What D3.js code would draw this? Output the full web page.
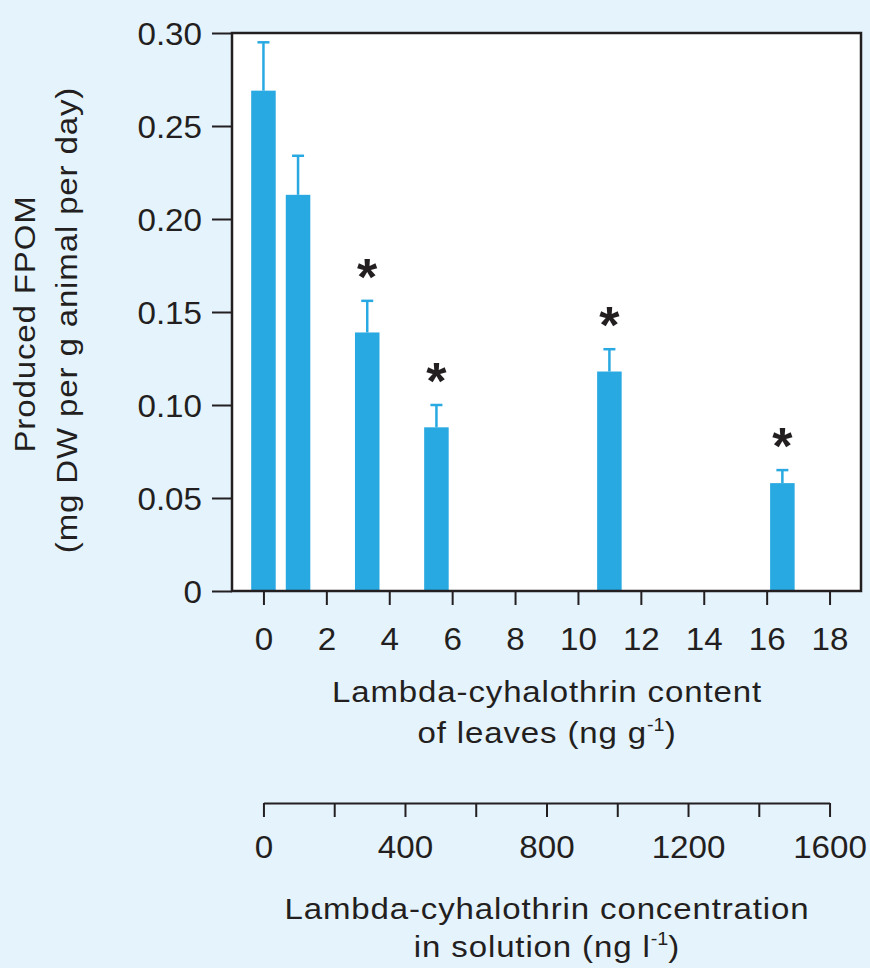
<!DOCTYPE html>
<html>
<head>
<meta charset="utf-8">
<script src="https://cdn.jsdelivr.net/npm/d3@7"></script>
<style>
  body { margin: 0; background: #e5f3fd; }
  text { font-family: "Liberation Sans", Arial, sans-serif; fill: #231f20; }
</style>
</head>
<body>
<svg id="vis"></svg>
<script>
//DATOS----------------------------------------------------------------------------------------------
const CONTENIDO_HOJAS = [0, 1.1, 3.3, 5.5, 11, 16.5];
const FPOM = [0.269, 0.213, 0.139, 0.088, 0.118, 0.058];
const ERROR_SUPERIOR = [0.295, 0.234, 0.156, 0.1, 0.13, 0.065];
const SIGNIFICATIVO = ["", "", "*", "*", "*", "*"];
const TICKS_Y = [0, 0.05, 0.1, 0.15, 0.2, 0.25, 0.3];
const ETIQUETAS_Y = ["0", "0.05", "0.10", "0.15", "0.20", "0.25", "0.30"];
const TICKS_X = [0, 2, 4, 6, 8, 10, 12, 14, 16, 18];
const TICKS_SOLUCION = [0, 200, 400, 600, 800, 1000, 1200, 1400, 1600];
const ETIQUETAS_SOLUCION = ["0", "", "400", "", "800", "", "1200", "", "1600"];

//VARIABLES CONSTANTES-------------------------------------------------------------------------------
const WIDTH = 870;
const HEIGHT = 968;
const MARGIN = { top: 33, left: 232, right: 9, bottom: 377 };
const HEIGHTVIS = HEIGHT - MARGIN.top - MARGIN.bottom;
const WIDTHVIS = WIDTH - MARGIN.left - MARGIN.right;
const AZUL = "#29a9e1";
const NEGRO = "#231f20";
const ESTIRAR_NUM = 1.07; // las letras del original son mas anchas
const ESTIRAR_TITULO = 1.1;
const svg = d3.select("#vis").attr("width", WIDTH).attr("height", HEIGHT);

svg.append("rect").attr("width", WIDTH).attr("height", HEIGHT).attr("fill", "#e5f3fd");

//ESCALAS--------------------------------------------------------------------------------------------
const escalaX = d3.scaleLinear().domain([-1, 19]).range([0, WIDTHVIS]);
const escalaY = d3.scaleLinear().domain([0, 0.3]).range([HEIGHTVIS, 0]);
const escalaSolucion = d3
  .scaleLinear()
  .domain([0, 1600])
  .range([escalaX(0), escalaX(18)]);
const ANCHO_BARRA = escalaX(0.78) - escalaX(0);

const contenedor = svg
  .append("g")
  .attr("transform", `translate(${MARGIN.left} ${MARGIN.top})`);

contenedor
  .append("rect")
  .attr("width", WIDTHVIS)
  .attr("height", HEIGHTVIS)
  .attr("fill", "white");

//EJE Y----------------------------------------------------------------------------------------------
const ejeY = d3
  .axisLeft(escalaY)
  .tickValues(TICKS_Y)
  .tickFormat((d, i) => ETIQUETAS_Y[i])
  .tickSize(20)
  .tickPadding(10);
const gEjeY = contenedor.append("g").call(ejeY);
gEjeY.select(".domain").remove();
gEjeY.selectAll("line").attr("stroke", NEGRO).attr("stroke-width", 2);
gEjeY
  .selectAll("text")
  .style("font-size", "31px")
  .attr("fill", NEGRO)
  .attr("x", -30 / ESTIRAR_NUM)
  .attr("dy", "0.36em")
  .attr("transform", `scale(${ESTIRAR_NUM}, 1)`);

//EJE X----------------------------------------------------------------------------------------------
const ejeX = d3.axisBottom(escalaX).tickValues(TICKS_X).tickSize(14);
const gEjeX = contenedor
  .append("g")
  .attr("transform", `translate(0, ${HEIGHTVIS})`)
  .call(ejeX);
gEjeX.select(".domain").remove();
gEjeX.selectAll("line").attr("stroke", NEGRO).attr("stroke-width", 2);
gEjeX
  .selectAll("text")
  .style("font-size", "31px")
  .attr("fill", NEGRO)
  .attr("y", 59)
  .attr("dy", 0)
  .attr("transform", `scale(${ESTIRAR_NUM}, 1)`);

//BARRAS---------------------------------------------------------------------------------------------
const datos = CONTENIDO_HOJAS.map((c, i) => ({
  contenido: c,
  fpom: FPOM[i],
  error: ERROR_SUPERIOR[i],
  marca: SIGNIFICATIVO[i],
}));

contenedor
  .selectAll(".barra")
  .data(datos)
  .join("rect")
  .attr("class", "barra")
  .attr("x", (d) => escalaX(d.contenido) - ANCHO_BARRA / 2)
  .attr("y", (d) => escalaY(d.fpom))
  .attr("width", ANCHO_BARRA)
  .attr("height", (d) => HEIGHTVIS - escalaY(d.fpom))
  .attr("fill", AZUL);

//BARRAS DE ERROR------------------------------------------------------------------------------------
contenedor
  .selectAll(".error")
  .data(datos)
  .join("line")
  .attr("class", "error")
  .attr("x1", (d) => escalaX(d.contenido))
  .attr("x2", (d) => escalaX(d.contenido))
  .attr("y1", (d) => escalaY(d.fpom))
  .attr("y2", (d) => escalaY(d.error))
  .attr("stroke", AZUL)
  .attr("stroke-width", 2.5);

contenedor
  .selectAll(".tope")
  .data(datos)
  .join("line")
  .attr("class", "tope")
  .attr("x1", (d) => escalaX(d.contenido) - 6)
  .attr("x2", (d) => escalaX(d.contenido) + 6)
  .attr("y1", (d) => escalaY(d.error))
  .attr("y2", (d) => escalaY(d.error))
  .attr("stroke", AZUL)
  .attr("stroke-width", 2.5);

contenedor
  .selectAll(".marca")
  .data(datos)
  .join("text")
  .attr("class", "marca")
  .attr("x", (d) => escalaX(d.contenido))
  .attr("y", (d) => escalaY(d.error) - 6)
  .attr("text-anchor", "middle")
  .style("font-size", "52px")
  .style("font-weight", "bold")
  .text((d) => d.marca);

//MARCO----------------------------------------------------------------------------------------------
contenedor
  .append("rect")
  .attr("width", WIDTHVIS)
  .attr("height", HEIGHTVIS)
  .attr("fill", "none")
  .attr("stroke", NEGRO)
  .attr("stroke-width", 2.5);

//EJE DE CONCENTRACION EN SOLUCION-------------------------------------------------------------------
const ejeSolucion = d3
  .axisBottom(escalaSolucion)
  .tickValues(TICKS_SOLUCION)
  .tickFormat((d, i) => ETIQUETAS_SOLUCION[i])
  .tickSize(14)
  .tickSizeOuter(0);
const gSolucion = svg
  .append("g")
  .attr("transform", `translate(${MARGIN.left}, 803)`)
  .call(ejeSolucion);
gSolucion.select(".domain").attr("stroke", NEGRO).attr("stroke-width", 2);
gSolucion.selectAll("line").attr("stroke", NEGRO).attr("stroke-width", 2);
gSolucion
  .selectAll("text")
  .style("font-size", "31px")
  .attr("fill", NEGRO)
  .attr("y", 55)
  .attr("dy", 0)
  .attr("transform", `scale(${ESTIRAR_NUM}, 1)`);

//TITULOS--------------------------------------------------------------------------------------------
function titulo(x, y, rotar) {
  return svg
    .append("text")
    .attr(
      "transform",
      `translate(${x}, ${y})` + (rotar ? " rotate(-90)" : "") + ` scale(${ESTIRAR_TITULO}, 1)`
    )
    .attr("text-anchor", "middle")
    .style("font-size", "30px")
    .style("letter-spacing", "0.8px");
}

function superindice(t, base, exp, fin) {
  t.append("tspan").text(base);
  t.append("tspan").attr("dy", -12).style("font-size", "18px").style("letter-spacing", "0px").text(exp);
  t.append("tspan").attr("dy", 12).text(fin);
}

titulo(35, 324, true).text("Produced FPOM");
titulo(77, 320, true).text("(mg DW per g animal per day)");

titulo(547, 702, false).text("Lambda-cyhalothrin content");
superindice(titulo(547, 743, false), "of leaves (ng g", "-1", ")");

titulo(547, 919, false).text("Lambda-cyhalothrin concentration");
superindice(titulo(547, 957, false), "in solution (ng l", "-1", ")");
</script>
</body>
</html>
